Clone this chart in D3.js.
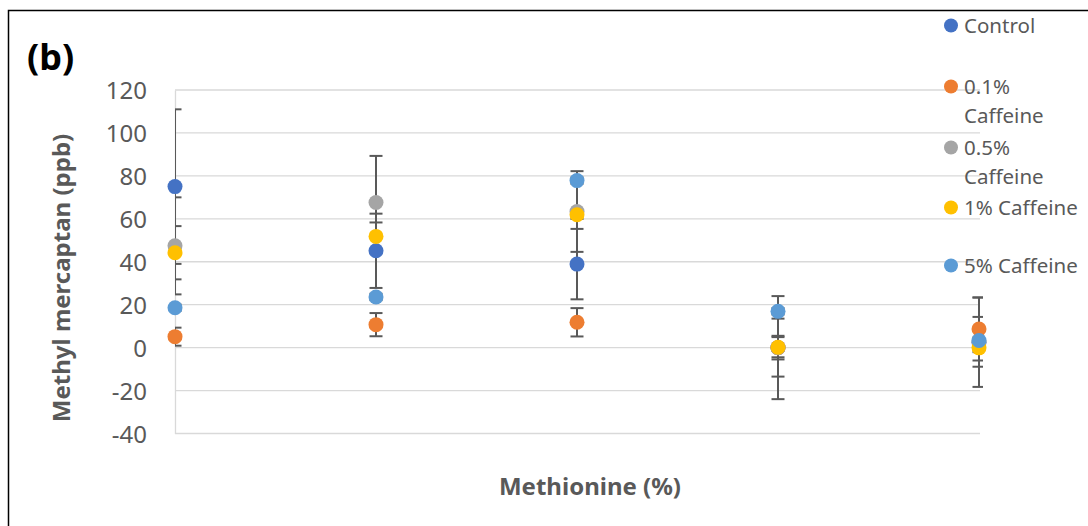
<!DOCTYPE html>
<html>
<head>
<meta charset="utf-8">
<script src="https://cdn.jsdelivr.net/npm/d3@7"></script>
<style>
  html, body { margin: 0; padding: 0; background: #fff; }
  svg { display: block; font-family: "Noto Sans", "Open Sans", sans-serif; }
</style>
</head>
<body>
<svg id="chart" width="1088" height="526"></svg>
<script>
// Methionine levels are plotted at evenly spaced positions (no tick labels shown)
const methionineLevels = [1, 2, 3, 4, 5];

const seriesNames = ["Control", "0.1% Caffeine", "0.5% Caffeine", "1% Caffeine", "5% Caffeine"];
const legendLines = [["Control"], ["0.1%", "Caffeine"], ["0.5%", "Caffeine"], ["1% Caffeine"], ["5% Caffeine"]];
const seriesColors = ["#4472C4", "#ED7D31", "#A5A5A5", "#FFC000", "#5B9BD5"];

// Methyl mercaptan (ppb), mean values per methionine level
const controlValues   = [75.0, 45.1, 38.9, 0.0, 2.5];
const caff01Values    = [5.1, 10.7, 11.8, 0.0, 8.7];
const caff05Values    = [47.4, 67.6, 63.4, 0.0, 2.7];
const caff1Values     = [44.2, 51.8, 61.9, 0.2, -0.1];
const caff5Values     = [18.6, 23.6, 77.8, 16.9, 3.3];

// Standard deviations (error bars)
const controlErrors   = [36.0, 17.3, 16.4, 24.0, 20.8];
const caff01Errors    = [4.2, 5.4, 6.6, 13.5, 14.7];
const caff05Errors    = [22.6, 21.7, 18.8, 5.5, 11.6];
const caff1Errors     = [12.4, 6.5, 2.0, 4.7, 2.0];
const caff5Errors     = [1.5, 1.5, 1.5, 1.5, 1.5];

const yTicks = [-40, -20, 0, 20, 40, 60, 80, 100, 120];

const allValues = [controlValues, caff01Values, caff05Values, caff1Values, caff5Values];
const allErrors = [controlErrors, caff01Errors, caff05Errors, caff1Errors, caff5Errors];

const series = seriesNames.map((name, i) => ({
  name,
  color: seriesColors[i],
  points: methionineLevels.map((m, j) => ({ m, v: allValues[i][j], e: allErrors[i][j] }))
}));

const svg = d3.select("#chart");
const textColor = "#595959";

const plot = { left: 175, right: 979, top: 90, bottom: 433.5 };

const x = d3.scaleLinear().domain([1, 5]).range([plot.left, plot.right]);
const y = d3.scaleLinear().domain([-40, 120]).range([plot.bottom, plot.top]);

// Outer chart frame
svg.append("rect")
  .attr("x", 8.5).attr("y", 10.5)
  .attr("width", 1200).attr("height", 700)
  .attr("fill", "none").attr("stroke", "#000").attr("stroke-width", 1.5);

// Horizontal gridlines
svg.append("g")
  .selectAll("line")
  .data(yTicks)
  .join("line")
  .attr("x1", plot.left).attr("x2", plot.right + 1)
  .attr("y1", d => y(d)).attr("y2", d => y(d))
  .attr("stroke", "#d9d9d9").attr("stroke-width", 1.3);

// Y axis with labels only (ticks hidden); plain hyphen for negatives
const yAxis = svg.append("g")
  .attr("transform", `translate(${plot.left},0)`)
  .call(d3.axisLeft(y).tickValues(yTicks).tickSize(0).tickPadding(28).tickFormat(d => String(d)));
yAxis.select(".domain").attr("stroke", "#d9d9d9").attr("stroke-width", 1.3);
yAxis.selectAll("text")
  .attr("fill", textColor)
  .style("font-family", "'Noto Sans', sans-serif")
  .style("font-size", "24px")
  .attr("dy", "0.36em");

// Clip for error bars (they are cut at the plot-area edges)
svg.append("clipPath").attr("id", "plotClip")
  .append("rect")
  .attr("x", plot.left).attr("y", 0)
  .attr("width", plot.right - plot.left + 4).attr("height", 526);

const capHalf = 6.5;
const errG = svg.append("g").attr("clip-path", "url(#plotClip)")
  .attr("stroke", "#595959").attr("stroke-width", 2).attr("fill", "none");

series.forEach(s => {
  const g = errG.append("g");
  g.selectAll("line.stem")
    .data(s.points)
    .join("line")
    .attr("class", "stem")
    .attr("x1", d => x(d.m)).attr("x2", d => x(d.m))
    .attr("y1", d => y(d.v + d.e)).attr("y2", d => y(d.v - d.e));
  g.selectAll("line.capTop")
    .data(s.points)
    .join("line")
    .attr("class", "capTop")
    .attr("x1", d => x(d.m) - capHalf).attr("x2", d => x(d.m) + capHalf)
    .attr("y1", d => y(d.v + d.e)).attr("y2", d => y(d.v + d.e));
  g.selectAll("line.capBot")
    .data(s.points)
    .join("line")
    .attr("class", "capBot")
    .attr("x1", d => x(d.m) - capHalf).attr("x2", d => x(d.m) + capHalf)
    .attr("y1", d => y(d.v - d.e)).attr("y2", d => y(d.v - d.e));
});

// Markers, drawn in series order
series.forEach(s => {
  svg.append("g")
    .selectAll("circle")
    .data(s.points)
    .join("circle")
    .attr("cx", d => x(d.m))
    .attr("cy", d => y(d.v))
    .attr("r", 7.5)
    .attr("fill", s.color);
});

// Panel label
svg.append("text")
  .attr("x", 27).attr("y", 70)
  .attr("fill", "#000")
  .style("font-size", "36px").style("font-weight", "bold")
  .text("(b)");

// Axis titles
svg.append("text")
  .attr("transform", `translate(70,278) rotate(-90)`)
  .attr("text-anchor", "middle")
  .attr("fill", textColor)
  .style("font-size", "24px").style("font-weight", "bold")
  .text("Methyl mercaptan (ppb)");

svg.append("text")
  .attr("x", 590).attr("y", 495)
  .attr("text-anchor", "middle")
  .attr("fill", textColor)
  .style("font-size", "24px").style("font-weight", "bold")
  .text("Methionine (%)");

// Legend
const legendBaselines = [33, 94, 155, 215, 273];
const legend = svg.append("g");
series.forEach((s, i) => {
  const base = legendBaselines[i];
  legend.append("circle")
    .attr("cx", 951).attr("cy", base - 7.5).attr("r", 7)
    .attr("fill", s.color);
  const t = legend.append("text")
    .attr("x", 964).attr("y", base)
    .attr("fill", textColor)
    .style("font-size", "20.5px");
  legendLines[i].forEach((line, k) => {
    t.append("tspan").attr("x", 964).attr("y", base + k * 29).text(line);
  });
});
</script>
</body>
</html>
